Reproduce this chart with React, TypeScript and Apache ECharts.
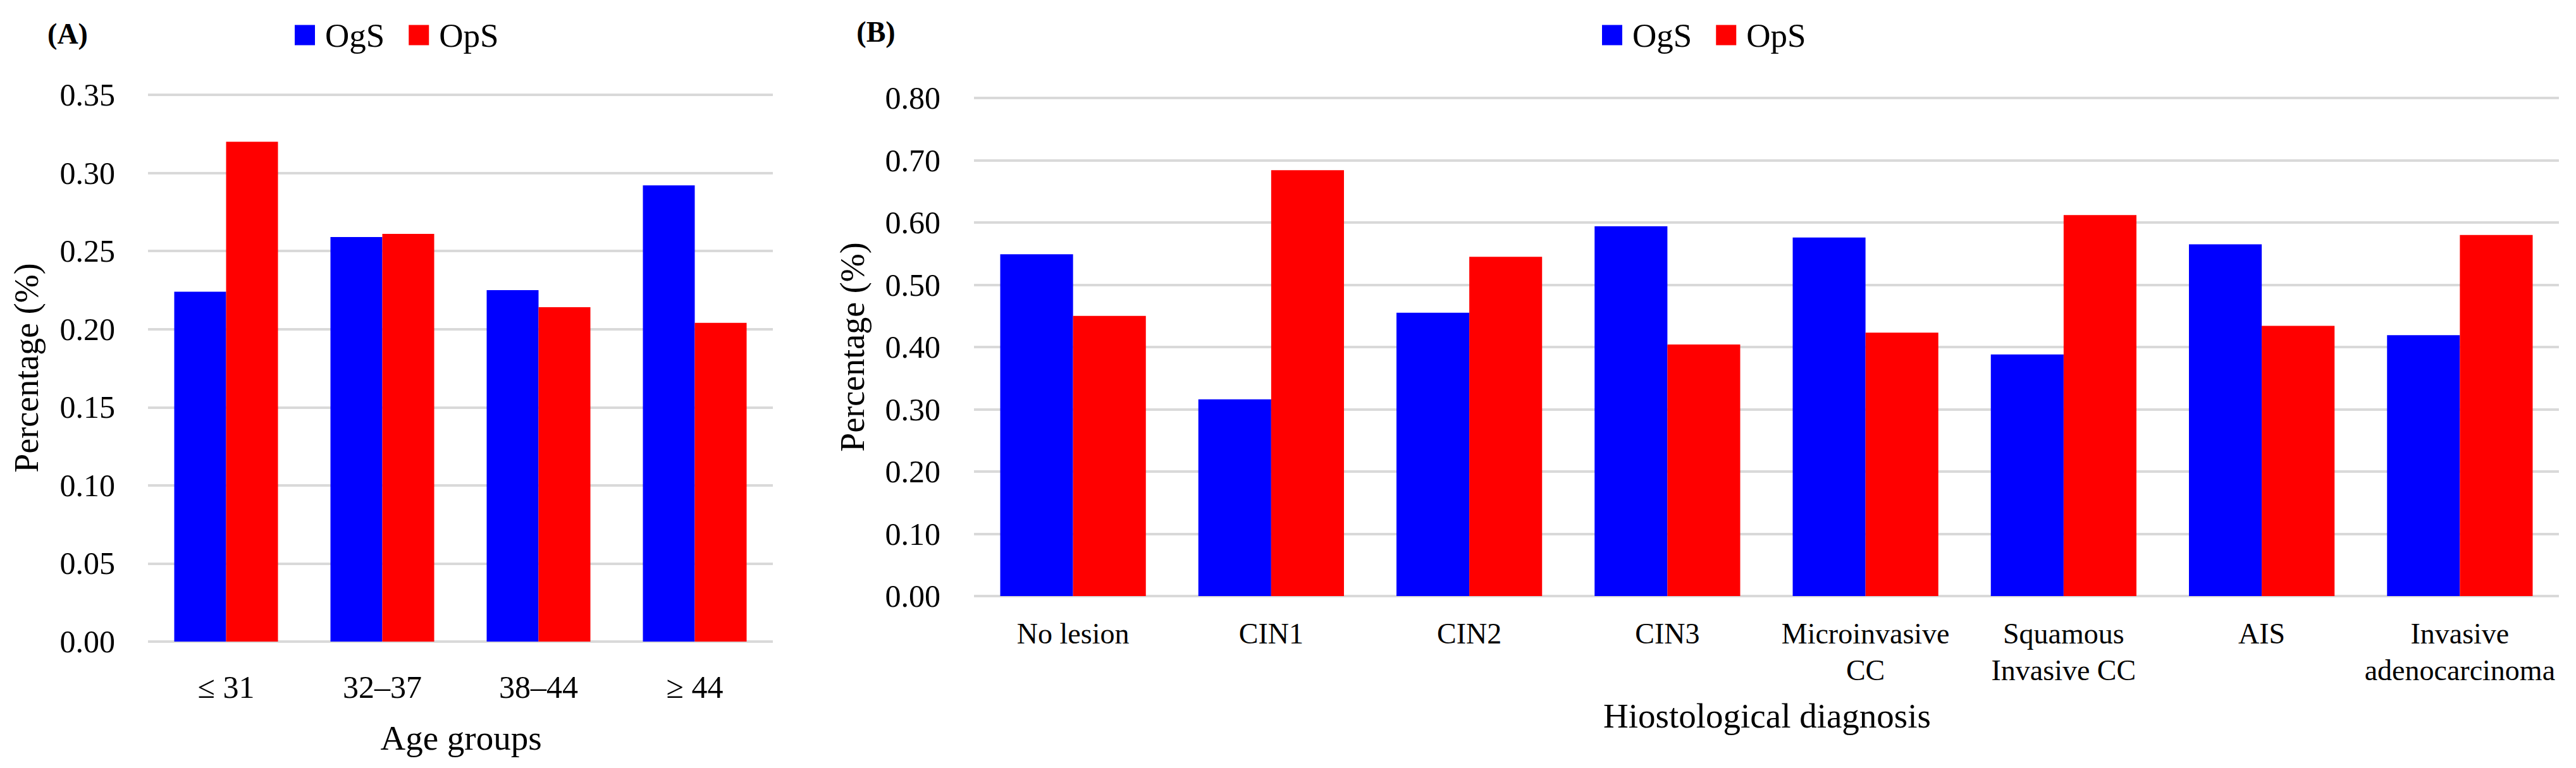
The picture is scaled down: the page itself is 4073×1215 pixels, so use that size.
import React, { useEffect, useRef } from "react";
import * as echarts from "echarts";

const ageGroups = ["≤ 31", "32–37", "38–44", "≥ 44"];
const ageOgS = [0.224, 0.259, 0.225, 0.292];
const ageOpS = [0.320, 0.261, 0.214, 0.204];

const diagnoses = [
  "No lesion",
  "CIN1",
  "CIN2",
  "CIN3",
  "Microinvasive\nCC",
  "Squamous\nInvasive CC",
  "AIS",
  "Invasive\nadenocarcinoma",
];
const diagOgS = [0.549, 0.316, 0.455, 0.594, 0.576, 0.388, 0.565, 0.419];
const diagOpS = [0.450, 0.684, 0.545, 0.404, 0.423, 0.612, 0.434, 0.580];

const seriesNames = ["OgS", "OpS"];
const FONT = "'Liberation Serif', 'Times New Roman', serif";
const BLUE = "#0000FF";
const RED = "#FF0000";
const GRIDC = "#d9d9d9";

export default function App() {
  const ref = useRef<HTMLDivElement>(null);
  useEffect(() => {
    if (!ref.current) return;
    const chart = echarts.init(ref.current, null, { renderer: "svg" });
    const legendBase = {
      top: 24,
      orient: "horizontal",
      icon: "rect",
      itemWidth: 32,
      itemHeight: 32,
      itemGap: 38,
      data: seriesNames,
      selectedMode: false,
      textStyle: { fontSize: 53, fontFamily: FONT, color: "#000", padding: [0, 0, 0, 11] },
    };
    const yAxisBase = {
      type: "value",
      min: 0,
      axisLine: { show: false },
      axisTick: { show: false },
      splitLine: { show: true, lineStyle: { color: GRIDC, width: 4 } },
    };
    const xAxisBase = {
      type: "category",
      axisLine: { show: false },
      axisTick: { show: false },
    };
    chart.setOption({
      animation: false,
      backgroundColor: "#fff",
      legend: [
        { ...legendBase, left: 461 },
        { ...legendBase, left: 2528 },
      ],
      grid: [
        { left: 234, top: 150, width: 988, height: 865 },
        { left: 1540, top: 155, width: 2506, height: 788 },
      ],
      xAxis: [
        {
          ...xAxisBase,
          gridIndex: 0,
          data: ageGroups,
          axisLabel: { fontSize: 50, fontFamily: FONT, color: "#000", margin: 42, lineHeight: 60 },
        },
        {
          ...xAxisBase,
          gridIndex: 1,
          data: diagnoses,
          axisLabel: {
            fontSize: 46,
            fontFamily: FONT,
            color: "#000",
            margin: 30,
            lineHeight: 58,
            interval: 0,
            verticalAlign: "top",
          },
        },
      ],
      yAxis: [
        {
          ...yAxisBase,
          gridIndex: 0,
          max: 0.35,
          interval: 0.05,
          axisLabel: {
            fontSize: 50,
            fontFamily: FONT,
            color: "#000",
            margin: 52,
            formatter: (v: number) => v.toFixed(2),
          },
        },
        {
          ...yAxisBase,
          gridIndex: 1,
          max: 0.8,
          interval: 0.1,
          axisLabel: {
            fontSize: 50,
            fontFamily: FONT,
            color: "#000",
            margin: 53,
            formatter: (v: number) => v.toFixed(2),
          },
        },
      ],
      series: [
        {
          name: seriesNames[0],
          type: "bar",
          xAxisIndex: 0,
          yAxisIndex: 0,
          data: ageOgS,
          itemStyle: { color: BLUE },
          barGap: "0%",
          barCategoryGap: "33.6%",
        },
        {
          name: seriesNames[1],
          type: "bar",
          xAxisIndex: 0,
          yAxisIndex: 0,
          data: ageOpS,
          itemStyle: { color: RED },
          barGap: "0%",
          barCategoryGap: "33.6%",
        },
        {
          name: seriesNames[0],
          type: "bar",
          xAxisIndex: 1,
          yAxisIndex: 1,
          data: diagOgS,
          itemStyle: { color: BLUE },
          barGap: "0%",
          barCategoryGap: "26.5%",
        },
        {
          name: seriesNames[1],
          type: "bar",
          xAxisIndex: 1,
          yAxisIndex: 1,
          data: diagOpS,
          itemStyle: { color: RED },
          barGap: "0%",
          barCategoryGap: "26.5%",
        },
      ],
      graphic: [
        {
          type: "text",
          x: 107,
          y: 53,
          style: { text: "(A)", font: `bold 46px ${FONT}`, fill: "#000", align: "center", verticalAlign: "middle" },
        },
        {
          type: "text",
          x: 1385,
          y: 50,
          style: { text: "(B)", font: `bold 46px ${FONT}`, fill: "#000", align: "center", verticalAlign: "middle" },
        },
        {
          type: "text",
          x: 42,
          y: 582,
          rotation: Math.PI / 2,
          style: { text: "Percentage (%)", font: `54px ${FONT}`, fill: "#000", align: "center", verticalAlign: "middle" },
        },
        {
          type: "text",
          x: 1348,
          y: 549,
          rotation: Math.PI / 2,
          style: { text: "Percentage (%)", font: `54px ${FONT}`, fill: "#000", align: "center", verticalAlign: "middle" },
        },
        {
          type: "text",
          x: 729,
          y: 1167,
          style: { text: "Age groups", font: `55px ${FONT}`, fill: "#000", align: "center", verticalAlign: "middle" },
        },
        {
          type: "text",
          x: 2794,
          y: 1132,
          style: {
            text: "Hiostological diagnosis",
            font: `55px ${FONT}`,
            fill: "#000",
            align: "center",
            verticalAlign: "middle",
          },
        },
      ],
    });
    return () => chart.dispose();
  }, []);
  return (
    <div
      ref={ref}
      style={{ position: "absolute", left: 0, top: 0, width: 4073, height: 1215, background: "#fff" }}
    />
  );
}
